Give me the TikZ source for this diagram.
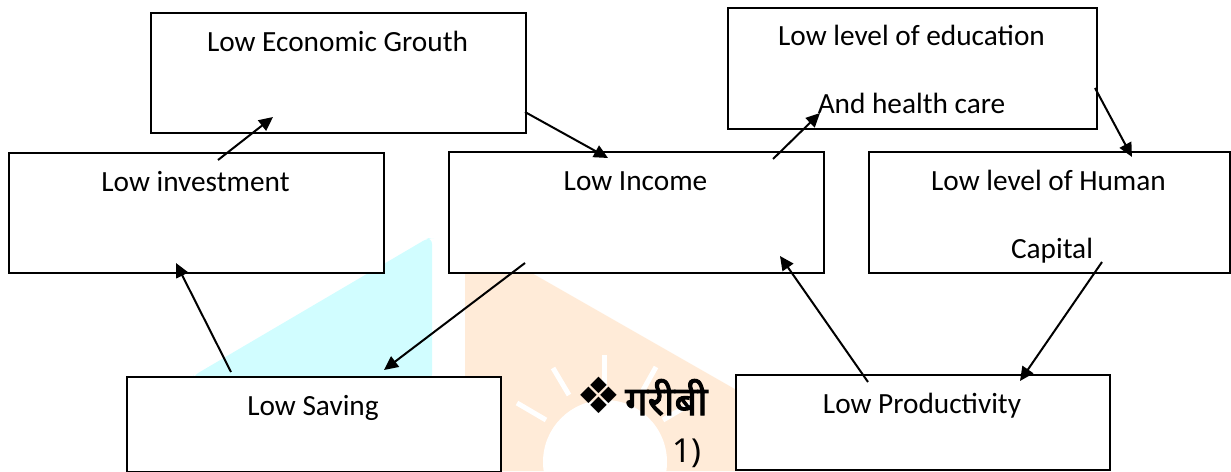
\documentclass[tikz,border=0pt]{standalone}
\usepackage{fontspec}
\setmainfont{Carlito}
\newfontfamily\devfont[Script=Devanagari]{Noto Sans}
\newfontfamily\devbold[Script=Devanagari,FakeBold=2.5]{Noto Sans}
\newfontfamily\symfont{DejaVu Sans}
\usetikzlibrary{arrows.meta}
\definecolor{cyanbg}{RGB}{209,253,255}
\definecolor{peachbg}{RGB}{255,235,216}
\begin{document}
\begin{tikzpicture}[x=1pt,y=-1pt,
  box/.style={draw=black,line width=1.5pt,fill=white,rectangle,inner sep=0pt,anchor=north west},
  lbl/.style={anchor=base,inner sep=0pt,font=\fontsize{29.3}{35}\selectfont},
  arr/.style={line width=2pt,-{Triangle[length=14pt,width=13pt]}},
  ray/.style={white,line width=5pt}]
\useasboundingbox (0,0) rectangle (1231,471);
% watermark background
\fill[cyanbg,rounded corners=6pt] (193,376) -- (428,238) -- (432,238) -- (432,380) -- (193,380) -- cycle;
\fill[peachbg] (465,272) -- (530,272) -- (740,392) -- (740,471) -- (465,471) -- cycle;
\fill[white] (605,462) circle (62);
\draw[ray] (604,355) -- (604,387);
\draw[ray] (553,368) -- (569,395);
\draw[ray] (656,367) -- (642,392);
\draw[ray] (517,403) -- (546,420);
\draw[ray] (692,403) -- (663,420);
% Hindi text
\node[anchor=base west,inner sep=0pt] (hsym) at (576,413) {\fontsize{50}{56}\selectfont\symfont ❖};
\node[anchor=base west,inner sep=0pt] (hword) at (625,415) {\fontsize{40}{46}\selectfont\devbold गरीबी};
\node[anchor=base west,inner sep=0pt] (hnum) at (672,462) {\fontsize{33}{40}\selectfont\devfont 1)};
% boxes
\node[box,minimum width=375pt,minimum height=120pt] (eg) at (150,12) {};
\node[box,minimum width=369pt,minimum height=121pt] (edu) at (727,7) {};
\node[box,minimum width=375pt,minimum height=120pt] (inv) at (8,152) {};
\node[box,minimum width=375pt,minimum height=121pt] (inc) at (448,151) {};
\node[box,minimum width=361pt,minimum height=121pt] (hum) at (868,151) {};
\node[box,minimum width=374pt,minimum height=95pt] (sav) at (126,376) {};
\node[box,minimum width=374pt,minimum height=95pt] (prod) at (735,374) {};
% labels
\node[lbl] (teg) at (337.5,51) {Low Economic Grouth};
\node[lbl] (tedu1) at (911.5,45) {Low level of education};
\node[lbl] (tedu2) at (911.5,113) {And health care};
\node[lbl] (tinv) at (195.5,191) {Low investment};
\node[lbl] (tinc) at (635.5,190) {Low Income};
\node[lbl] (thum1) at (1048.5,190) {Low level of Human};
\node[lbl] (thum2) at (1052,258) {Capital};
\node[lbl] (tsav) at (313,415) {Low Saving};
\node[lbl] (tprod) at (922,413) {Low Productivity};
% connector end points
\coordinate (a1s) at (218,160); \coordinate (a1e) at (273,117);
\coordinate (a2s) at (525,112); \coordinate (a2e) at (608,158);
\coordinate (a3s) at (773,159); \coordinate (a3e) at (820,113);
\coordinate (a4s) at (1095,88); \coordinate (a4e) at (1132,157);
\coordinate (a5s) at (1102,262); \coordinate (a5e) at (1020,381);
\coordinate (a6s) at (868,382); \coordinate (a6e) at (780,256);
\coordinate (a7s) at (525,263); \coordinate (a7e) at (384,370);
\coordinate (a8s) at (231,372); \coordinate (a8e) at (176,263);
\draw[arr] (a1s) -- (a1e);
\draw[arr] (a2s) -- (a2e);
\draw[arr] (a3s) -- (a3e);
\draw[arr] (a4s) -- (a4e);
\draw[arr] (a5s) -- (a5e);
\draw[arr] (a6s) -- (a6e);
\draw[arr] (a7s) -- (a7e);
\draw[arr] (a8s) -- (a8e);
\end{tikzpicture}
\end{document}
